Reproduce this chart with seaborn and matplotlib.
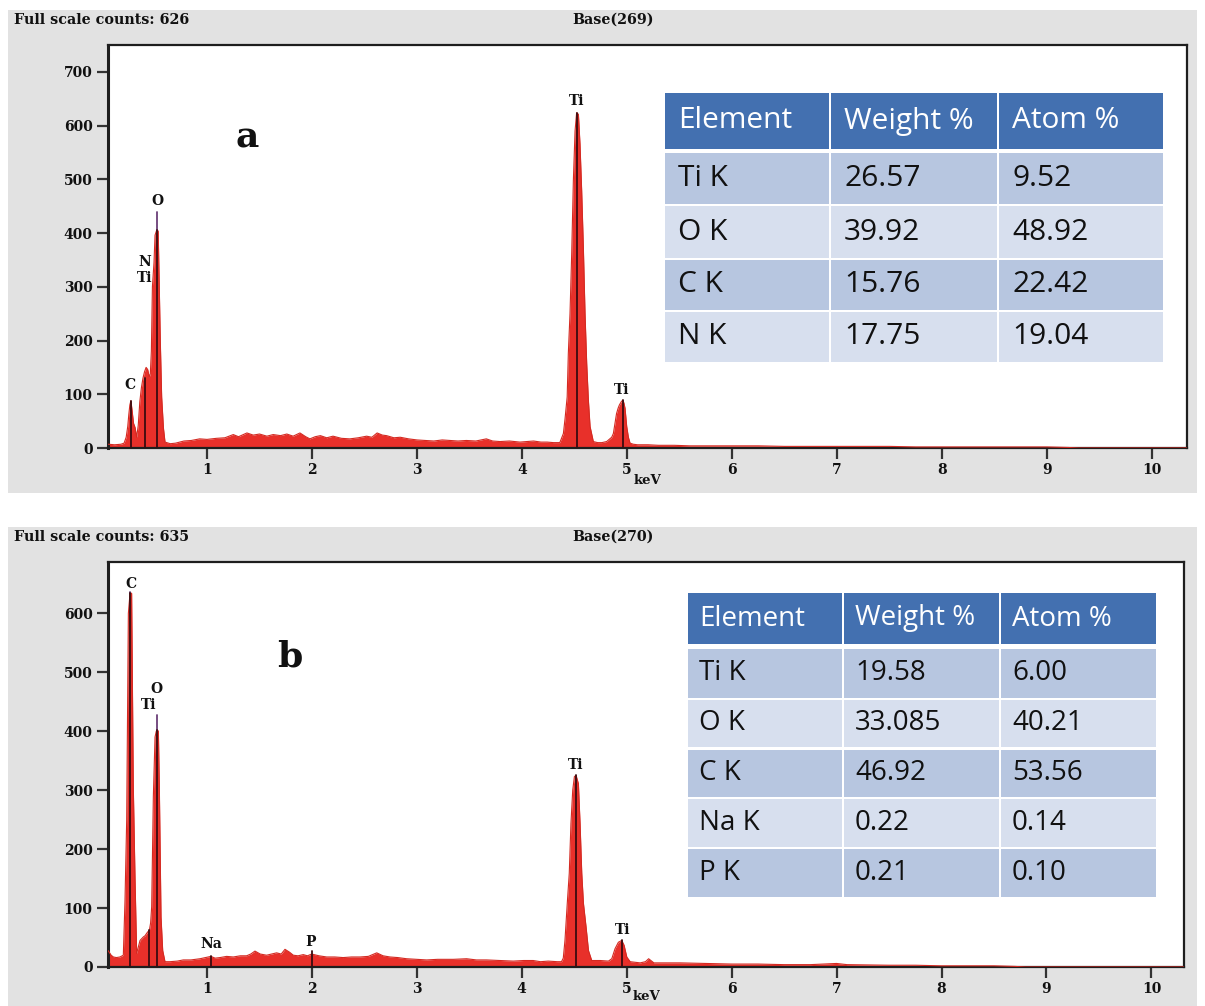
import matplotlib
matplotlib.use("Agg")
import matplotlib.pyplot as plt
from matplotlib.patches import Rectangle
import pandas as pd
import seaborn as sns

sns.set_theme(style="white")
plt.rcParams['font.family'] = ['DejaVu Serif']

# ---------------- data: spectrum (a) ----------------
energy_a = [0.06, 0.12, 0.18, 0.21, 0.23, 0.245, 0.255, 0.265, 0.275, 0.285,
            0.30, 0.315, 0.33, 0.345, 0.36, 0.375, 0.39, 0.405, 0.42, 0.435,
            0.45, 0.46, 0.47, 0.48, 0.495, 0.505, 0.52, 0.535, 0.545, 0.555,
            0.568, 0.585, 0.60, 0.65, 0.70, 0.78, 0.85, 0.93, 1.0, 1.09,
            1.17, 1.25, 1.3, 1.38, 1.44, 1.5, 1.57, 1.63, 1.7, 1.76,
            1.82, 1.885, 1.94, 1.98, 2.03, 2.08, 2.14, 2.2, 2.28, 2.36,
            2.44, 2.52, 2.57, 2.62, 2.67, 2.71, 2.78, 2.84, 2.92, 3.0,
            3.08, 3.16, 3.24, 3.31, 3.39, 3.47, 3.56, 3.66, 3.72, 3.79,
            3.88, 3.98, 4.05, 4.11, 4.18, 4.24, 4.30, 4.36, 4.394, 4.41,
            4.43, 4.441, 4.457, 4.473, 4.489, 4.505, 4.52, 4.537, 4.552, 4.568,
            4.584, 4.60, 4.616, 4.632, 4.648, 4.679, 4.72, 4.76, 4.806, 4.854,
            4.87, 4.885, 4.90, 4.915, 4.927, 4.945, 4.959, 4.97, 4.981, 4.997,
            5.013, 5.029, 5.06, 5.1, 5.2, 5.3, 5.45, 5.6, 5.8, 6.0,
            6.25, 6.5, 6.75, 7.0, 7.25, 7.5, 7.75, 8.0, 8.25, 8.5,
            8.75, 9.0, 9.2, 9.3, 10.33]
counts_a = [7, 6, 7, 9, 20, 40, 62, 80, 88, 72,
            46, 38, 20, 42, 86, 112, 130, 142, 150, 146,
            132, 138, 180, 300, 345, 396, 405, 404, 305, 200,
            95, 37, 11, 8, 9, 13, 14, 17, 16, 18,
            19, 25, 21, 28, 24, 26, 22, 25, 23, 26,
            22, 28, 21, 17, 21, 23, 19, 22, 18, 17,
            19, 22, 20, 28, 24, 23, 19, 20, 17, 15,
            14, 13, 15, 14, 13, 14, 13, 17, 13, 12,
            13, 11, 12, 13, 11, 11, 10, 10, 27, 55,
            95, 176, 250, 361, 498, 590, 624, 621, 566, 479,
            374, 250, 157, 89, 40, 12, 10, 10, 12, 20,
            27, 45, 64, 74, 80, 86, 89, 84, 74, 40,
            20, 9, 7, 6, 6, 5, 5, 4, 4, 4,
            4, 3, 3, 3, 3, 3, 2, 2, 2, 2,
            2, 2, 1, 0, 0]

# ---------------- data: spectrum (b) ----------------
energy_b = [0.06, 0.09, 0.111, 0.14, 0.174, 0.206, 0.222, 0.238, 0.254, 0.27,
            0.285, 0.301, 0.317, 0.333, 0.349, 0.365, 0.381, 0.397, 0.413, 0.428,
            0.441, 0.454, 0.466, 0.476, 0.492, 0.508, 0.52, 0.53, 0.54, 0.549,
            0.565, 0.581, 0.603, 0.65, 0.72, 0.777, 0.85, 0.936, 0.99, 1.041,
            1.08, 1.127, 1.19, 1.254, 1.32, 1.38, 1.42, 1.46, 1.51, 1.571,
            1.62, 1.666, 1.71, 1.746, 1.79, 1.825, 1.87, 1.92, 1.96, 2.0,
            2.07, 2.143, 2.22, 2.3, 2.38, 2.46, 2.54, 2.62, 2.68, 2.746,
            2.82, 2.905, 3.0, 3.095, 3.2, 3.35, 3.476, 3.57, 3.666, 3.8,
            3.92, 4.02, 4.11, 4.18, 4.254, 4.34, 4.38, 4.397, 4.413, 4.435,
            4.454, 4.47, 4.487, 4.503, 4.519, 4.541, 4.557, 4.573, 4.589, 4.614,
            4.637, 4.668, 4.748, 4.827, 4.859, 4.89, 4.922, 4.954, 4.976, 5.002,
            5.034, 5.13, 5.18, 5.21, 5.26, 5.4, 5.51, 5.75, 6.0, 6.25,
            6.5, 6.75, 7.0, 7.1, 7.5, 7.75, 8.0, 8.25, 8.5, 8.7,
            8.8, 10.31]
counts_b = [28, 20, 17, 16, 17, 20, 113, 249, 600, 634,
            634, 306, 153, 23, 34, 45, 48, 51, 53, 57,
            60, 62, 75, 102, 289, 390, 400, 402, 400, 306,
            85, 28, 9, 9, 10, 12, 12, 14, 16, 18,
            15, 16, 18, 17, 19, 19, 22, 27, 22, 20,
            22, 24, 22, 30, 25, 20, 19, 21, 19, 22,
            19, 17, 17, 16, 17, 17, 18, 24, 19, 17,
            16, 14, 13, 12, 13, 13, 14, 12, 12, 11,
            10, 11, 11, 9, 10, 9, 9, 15, 45, 108,
            159, 243, 300, 323, 325, 311, 243, 159, 108, 68,
            28, 11, 11, 10, 14, 31, 42, 45, 37, 17,
            9, 7, 9, 14, 7, 7, 7, 6, 5, 5,
            4, 4, 6, 4, 3, 3, 2, 2, 2, 1,
            0, 0]

# ---------------- data: element markers ----------------
marker_energy_a = [0.273, 0.41, 0.527, 4.52, 4.96]
marker_top_a = [88, 130, 440, 624, 89]
marker_peak_a = [88, 130, 405, 624, 89]
label_text_a = ["C", "N", "Ti", "O", "Ti", "Ti"]
label_x_a = [0.267, 0.41, 0.41, 0.527, 4.52, 4.95]
label_y_a = [117, 347, 316, 459, 646, 108]

marker_energy_b = [0.272, 0.454, 0.527, 1.041, 2.0, 4.519, 4.954]
marker_top_b = [636, 62, 427, 18, 27, 325, 45]
marker_peak_b = [634, 62, 402, 18, 27, 325, 45]
label_text_b = ["C", "O", "Ti", "Na", "P", "Ti", "Ti"]
label_x_b = [0.276, 0.517, 0.45, 1.04, 1.99, 4.51, 4.96]
label_y_b = [650, 471, 444, 39, 42, 343, 62]

# ---------------- data: composition tables ----------------
table_header = ["Element", "Weight %", "Atom %"]
elements_a = ["Ti K", "O K", "C K", "N K"]
weight_a = ["26.57", "39.92", "15.76", "17.75"]
atom_a = ["9.52", "48.92", "22.42", "19.04"]
elements_b = ["Ti K", "O K", "C K", "Na K", "P K"]
weight_b = ["19.58", "33.085", "46.92", "0.22", "0.21"]
atom_b = ["6.00", "40.21", "53.56", "0.14", "0.10"]

full_scale = ["Full scale counts: 626", "Full scale counts: 635"]
base_text = ["Base(269)", "Base(270)"]
x_ticks = list(range(1, 11))
y_ticks_a = list(range(0, 701, 100))
y_ticks_b = list(range(0, 601, 100))

# ---------------- figure ----------------
W, H = 1205, 1006
fig = plt.figure(figsize=(W / 100, H / 100), dpi=100)
fig.patch.set_facecolor("white")

def fx(px):
    return px / W

def fy(py):
    return 1 - py / H

GREY = "#e2e2e2"
RED = "#e8302a"
TXT = dict(fontfamily="DejaVu Serif", fontweight="bold", color="#111111")

def grey_box(x0, y0, x1, y1):
    fig.patches.append(Rectangle((fx(x0), fy(y1)), fx(x1) - fx(x0), fy(y0) - fy(y1),
                                 transform=fig.transFigure, facecolor=GREY,
                                 edgecolor="none", zorder=-5))

grey_box(8, 10, 1197, 493)
grey_box(8, 527, 1197, 1006)


def draw_panel(rect_px, xlim, ylim, energy, counts, yticks,
               m_e, m_top, m_peak, l_t, l_x, l_y, letter, letter_xy, kev_y):
    x0, y0, x1, y1 = rect_px
    ax = fig.add_axes([fx(x0), fy(y1), fx(x1) - fx(x0), fy(y0) - fy(y1)])
    ax.set_facecolor("white")
    df = pd.DataFrame({"keV": energy, "counts": counts})
    ax.fill_between(df["keV"], df["counts"], 0, color=RED, linewidth=0, zorder=2)
    sns.lineplot(data=df, x="keV", y="counts", ax=ax, color="#d42a22",
                 linewidth=0.8, zorder=3, estimator=None, sort=False)
    for e, t, p in zip(m_e, m_top, m_peak):
        ax.plot([e, e], [p, t], color="#6b3f78", linewidth=1.3, zorder=4)
        ax.plot([e, e], [0, p], color="#3a0c10", linewidth=1.3, zorder=4)
    for t, x, y in zip(l_t, l_x, l_y):
        ax.text(x, y, t, ha="center", va="center", fontsize=10, **TXT)
    ax.text(letter_xy[0], letter_xy[1], letter, ha="center", va="center",
            fontsize=26, **TXT)
    ax.set_xlim(*xlim)
    ax.set_ylim(*ylim)
    ax.set_xticks(x_ticks)
    ax.set_yticks(yticks)
    ax.set_xticklabels([str(v) for v in x_ticks], **TXT, fontsize=10)
    ax.set_yticklabels([str(v) for v in yticks], **TXT, fontsize=10)
    ax.tick_params(axis="both", direction="out", length=8, width=1.6,
                   color="#333333", pad=3, bottom=True, left=True)
    ax.set_xlabel("")
    ax.set_ylabel("")
    fig.text(fx((x0 + x1) / 2), fy(kev_y), "keV", ha="center", va="center",
             fontsize=9.5, **TXT)
    for s in ax.spines.values():
        s.set_visible(True)
        s.set_color("#1e1e1e")
        s.set_linewidth(1.6)
    ax.spines["left"].set_linewidth(2.2)
    return ax


ax_a = draw_panel((108, 45, 1187, 448), (0.057, 10.333), (0, 750), energy_a, counts_a,
                  y_ticks_a, marker_energy_a, marker_top_a, marker_peak_a,
                  label_text_a, label_x_a, label_y_a, "a", (1.38, 577), 481)
ax_b = draw_panel((108, 562, 1184, 967), (0.06, 10.31), (0, 687), energy_b, counts_b,
                  y_ticks_b, marker_energy_b, marker_top_b, marker_peak_b,
                  label_text_b, label_x_b, label_y_b, "b", (1.79, 526), 997)

# header texts
for i, ytop in enumerate([20, 537]):
    fig.text(fx(14), fy(ytop), full_scale[i], ha="left", va="center", fontsize=10.3, **TXT)
    fig.text(fx(572), fy(ytop), base_text[i], ha="left", va="center", fontsize=10.3, **TXT)

# ---------------- tables ----------------
HEAD = "#4370b0"
ROW_DARK = "#b7c6e0"
ROW_LIGHT = "#d7dfee"


def draw_table(col_edges, row_edges, rows, fsize, pad):
    for r, (t, b) in enumerate(row_edges):
        if r == 0:
            fc = HEAD
        else:
            fc = ROW_DARK if r % 2 == 1 else ROW_LIGHT
        for c in range(3):
            l, rr = col_edges[c] + 1, col_edges[c + 1] - 1
            fig.patches.append(Rectangle((fx(l), fy(b)), fx(rr) - fx(l), fy(t) - fy(b),
                                         transform=fig.transFigure, facecolor=fc,
                                         edgecolor="none", zorder=5))
            fig.text(fx(col_edges[c] + pad), fy((t + b) / 2), rows[r][c],
                     ha="left", va="center", fontsize=fsize, fontfamily="Open Sans",
                     color="white" if r == 0 else "#111111", zorder=6)


rows_a = [table_header] + [list(z) for z in zip(elements_a, weight_a, atom_a)]
rows_b = [table_header] + [list(z) for z in zip(elements_b, weight_b, atom_b)]

draw_table([664, 830, 998, 1164],
           [(93, 149), (153, 204), (206, 258), (260, 310), (312, 362)],
           rows_a, 21.5, 14)
draw_table([687, 843, 1000, 1157],
           [(593, 644), (649, 698), (700, 747), (750, 797), (799, 847), (849, 897)],
           rows_b, 20, 12)

fig.savefig("out.png", dpi=100, facecolor="white")
